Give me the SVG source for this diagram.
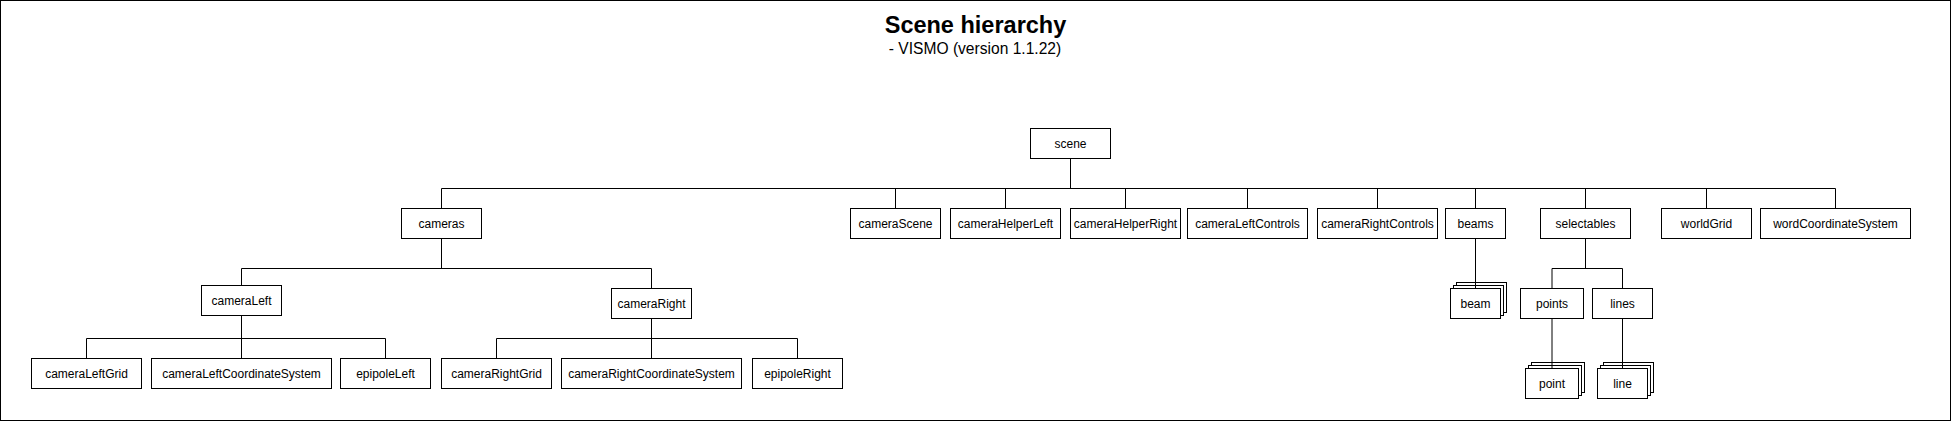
<svg xmlns="http://www.w3.org/2000/svg" width="1951" height="421" viewBox="0 0 1951 421">
<style>
.n rect{fill:#fff;stroke:#000;stroke-width:1}
.n text{font-family:"Liberation Sans",Arial,sans-serif;font-size:12px;fill:#000;text-anchor:middle}
.c path{fill:none;stroke:#000;stroke-width:1}
.t{font-family:"Liberation Sans",Arial,sans-serif;fill:#000;text-anchor:middle}
</style>
<rect x="0.5" y="0.5" width="1950" height="420" fill="#fff" stroke="#000" stroke-width="1"/>
<text class="t" x="975.5" y="33" font-size="23.5" font-weight="bold">Scene hierarchy</text>
<text class="t" x="975" y="54" font-size="15.6">- VISMO (version 1.1.22)</text>

<g class="c" id="connectors">
<path d="M1070.5 158.5V188.5M441.5 188.5H1835.5M441.5 188.5V208.5M895.5 188.5V208.5M1005.5 188.5V208.5M1125.5 188.5V208.5M1247.5 188.5V208.5M1377.5 188.5V208.5M1475.5 188.5V208.5M1585.5 188.5V208.5M1706.5 188.5V208.5M1835.5 188.5V208.5"/>
<path d="M441.5 238.5V268.5M241.5 268.5H651.5M241.5 268.5V285.5M651.5 268.5V288.5"/>
<path d="M241.5 315.5V338.5M86.5 338.5H385.5M86.5 338.5V358.5M241.5 338.5V358.5M385.5 338.5V358.5"/>
<path d="M651.5 318.5V338.5M496.5 338.5H797.5M496.5 338.5V358.5M651.5 338.5V358.5M797.5 338.5V358.5"/>
<path d="M1585.5 238.5V268.5M1552 268.5H1622.5M1552 268.5V288.5M1622.5 268.5V288.5"/>
</g>

<g class="n" id="scene"><rect x="1030.5" y="128.5" width="80" height="30"/><text x="1070.5" y="147.5">scene</text></g>
<g class="n" id="cameras"><rect x="401.5" y="208.5" width="80" height="30"/><text x="441.5" y="227.5">cameras</text></g>
<g class="n" id="cameraScene"><rect x="850.5" y="208.5" width="90" height="30"/><text x="895.5" y="227.5">cameraScene</text></g>
<g class="n" id="cameraHelperLeft"><rect x="950.5" y="208.5" width="110" height="30"/><text x="1005.5" y="227.5">cameraHelperLeft</text></g>
<g class="n" id="cameraHelperRight"><rect x="1070.5" y="208.5" width="110" height="30"/><text x="1125.5" y="227.5">cameraHelperRight</text></g>
<g class="n" id="cameraLeftControls"><rect x="1187.5" y="208.5" width="120" height="30"/><text x="1247.5" y="227.5">cameraLeftControls</text></g>
<g class="n" id="cameraRightControls"><rect x="1317.5" y="208.5" width="120" height="30"/><text x="1377.5" y="227.5">cameraRightControls</text></g>
<g class="n" id="beams"><rect x="1445.5" y="208.5" width="60" height="30"/><text x="1475.5" y="227.5">beams</text></g>
<g class="n" id="selectables"><rect x="1540.5" y="208.5" width="90" height="30"/><text x="1585.5" y="227.5">selectables</text></g>
<g class="n" id="worldGrid"><rect x="1661.5" y="208.5" width="90" height="30"/><text x="1706.5" y="227.5">worldGrid</text></g>
<g class="n" id="wordCoordinateSystem"><rect x="1760.5" y="208.5" width="150" height="30"/><text x="1835.5" y="227.5">wordCoordinateSystem</text></g>

<g class="n" id="cameraLeft"><rect x="201.5" y="285.5" width="80" height="30"/><text x="241.5" y="304.5">cameraLeft</text></g>
<g class="n" id="cameraRight"><rect x="611.5" y="288.5" width="80" height="30"/><text x="651.5" y="307.5">cameraRight</text></g>

<g class="n" id="cameraLeftGrid"><rect x="31.5" y="358.5" width="110" height="30"/><text x="86.5" y="377.5">cameraLeftGrid</text></g>
<g class="n" id="cameraLeftCoordinateSystem"><rect x="151.5" y="358.5" width="180" height="30"/><text x="241.5" y="377.5">cameraLeftCoordinateSystem</text></g>
<g class="n" id="epipoleLeft"><rect x="340.5" y="358.5" width="90" height="30"/><text x="385.5" y="377.5">epipoleLeft</text></g>
<g class="n" id="cameraRightGrid"><rect x="441.5" y="358.5" width="110" height="30"/><text x="496.5" y="377.5">cameraRightGrid</text></g>
<g class="n" id="cameraRightCoordinateSystem"><rect x="561.5" y="358.5" width="180" height="30"/><text x="651.5" y="377.5">cameraRightCoordinateSystem</text></g>
<g class="n" id="epipoleRight"><rect x="752.5" y="358.5" width="90" height="30"/><text x="797.5" y="377.5">epipoleRight</text></g>

<g class="n" id="beam"><rect x="1456.5" y="282.5" width="50" height="30"/><rect x="1453.5" y="285.5" width="50" height="30"/><rect x="1450.5" y="288.5" width="50" height="30"/><text x="1475.5" y="307.5">beam</text></g>
<g class="n" id="points"><rect x="1520.5" y="288.5" width="63" height="30"/><text x="1552" y="307.5">points</text></g>
<g class="n" id="lines"><rect x="1592.5" y="288.5" width="60" height="30"/><text x="1622.5" y="307.5">lines</text></g>
<g class="n" id="point"><rect x="1531.5" y="362.5" width="53" height="30"/><rect x="1528.5" y="365.5" width="53" height="30"/><rect x="1525.5" y="368.5" width="53" height="30"/><text x="1552" y="387.5">point</text></g>
<g class="n" id="line"><rect x="1603.5" y="362.5" width="50" height="30"/><rect x="1600.5" y="365.5" width="50" height="30"/><rect x="1597.5" y="368.5" width="50" height="30"/><text x="1622.5" y="387.5">line</text></g>

<g class="c" id="connectors2">
<path d="M1475.5 238.5V288.5M1552 318.5V368.5M1622.5 318.5V368.5"/>
</g>
</svg>
